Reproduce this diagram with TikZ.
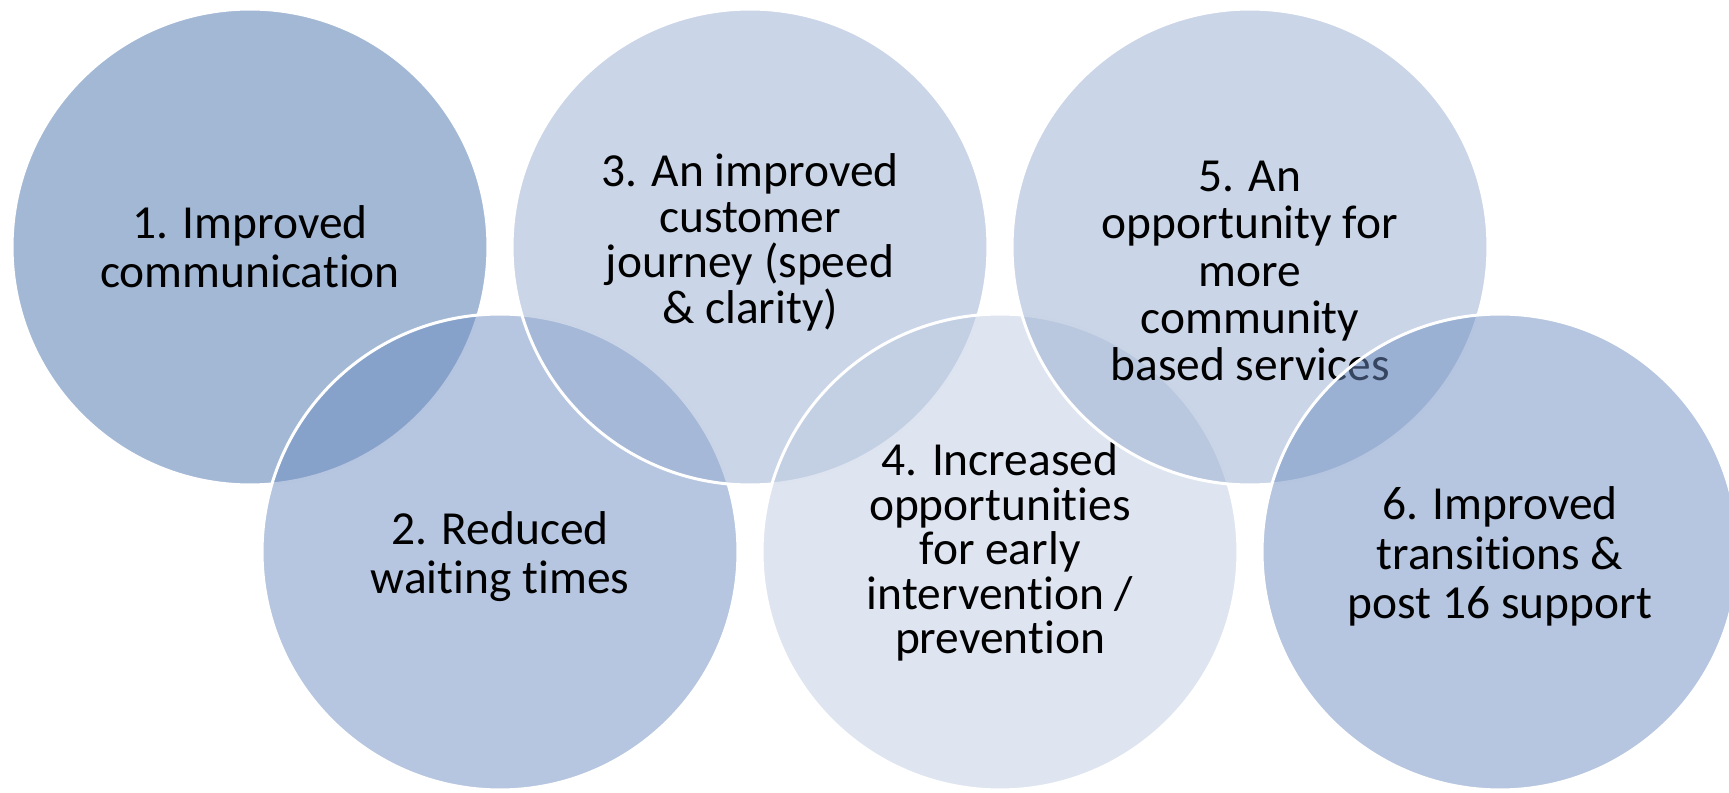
\documentclass[tikz,border=0pt]{standalone}
\usepackage{fontspec}
\setmainfont{Carlito}[Ligatures={NoCommon,NoContextual,NoRequired},Contextuals=NoAlternate]

\definecolor{bluedark}{RGB}{71,113,171}
\definecolor{bluemid}{RGB}{109,141,193}
\definecolor{bluelight}{RGB}{149,171,207}
\definecolor{bluepale}{RGB}{189,203,225}

\begin{document}
\begin{tikzpicture}[x=0.02cm,y=-0.02cm]
	\tikzset{goal/.style={circle, minimum size=9.52cm, inner sep=0pt,
			draw=white, line width=1.7pt, fill opacity=0.5},
		goaltext/.style={align=center, inner sep=0pt, font=\fontsize{27}{#1}\selectfont}}
	\useasboundingbox (0,0) rectangle (1729,793);
	%Circulos, de izquierda a derecha, cada uno con su texto
	\node[goal, fill=bluedark] (comm) at (250,247) {};
	\node[goaltext=28] (comm text) at (comm) {1. Improved\\communication};
	\node[goal, fill=bluemid] (wait) at (500,552) {};
	\node[goaltext=28] (wait text) at ([yshift=-0.1cm]wait) {2. Reduced\\waiting times};
	\node[goal, fill=bluelight] (journey) at (750,247) {};
	\node[goaltext=26] (journey text) at ([yshift=0.09cm]journey) {3. An improved\\customer\\journey (speed\\\& clarity)};
	\node[goal, fill=bluepale] (early) at (1000,552) {};
	\node[goaltext=25.3] (early text) at (early) {4. Increased\\opportunities\\for early\\intervention /\\prevention};
	\node[goal, fill=bluelight] (community) at (1250,247) {};
	\node[goaltext=26.9] (community text) at ([yshift=-0.48cm]community) {5. An\\opportunity for\\more\\community\\based services};
	\node[goal, fill=bluemid] (post) at (1500,552) {};
	\node[goaltext=28] (post text) at ([yshift=-0.09cm]post) {6. Improved\\transitions \&\\post 16 support};
\end{tikzpicture}
\end{document}
